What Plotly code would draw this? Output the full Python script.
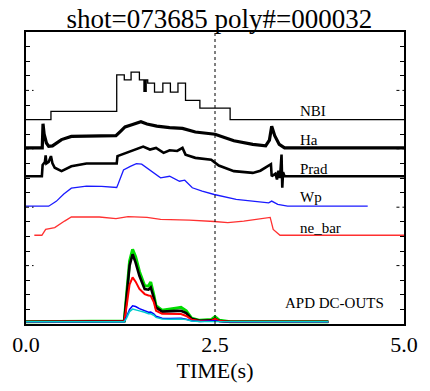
import plotly.graph_objects as go

# ---------------- data (time in s, values in stacked display units) ----------------
nbi_t = [0, 0.33, 1.20, 1.30, 1.39, 1.50, 1.56, 1.57, 1.58, 1.59, 1.61, 1.70, 1.81, 1.91, 2.01, 2.11, 2.30, 2.70, 5.0]
nbi_v = [14.0, 14.56, 17.06, 16.72, 17.25, 16.72, 15.93, 16.72, 15.93, 16.72, 16.50, 15.88, 16.50, 15.88, 16.50, 15.31, 14.79, 14.0, 14.0]

ha_t = [0, 0.215, 0.225, 0.24, 0.27, 0.30, 0.35, 0.47, 0.6, 0.8, 1.0, 1.19, 1.25, 1.31, 1.4, 1.52, 1.6, 1.73, 1.9, 2.07, 2.24, 2.5, 2.75, 3.0, 3.17, 3.22, 3.25, 3.29, 3.35, 3.42, 5.0]
ha_v = [12.06, 12.06, 13.72, 13.0, 12.4, 12.17, 12.2, 12.63, 12.85, 12.88, 12.88, 12.9, 13.2, 13.5, 13.65, 13.85, 13.7, 13.55, 13.45, 13.4, 13.15, 13.0, 12.55, 12.3, 12.2, 12.6, 13.54, 12.9, 12.3, 12.06, 12.06]

prad_t = [0, 0.21, 0.22, 0.25, 0.26, 0.27, 0.30, 0.33, 0.35, 0.38, 0.47, 0.6, 0.8, 1.2, 1.21, 1.26, 1.4, 1.55, 1.64, 1.72, 1.82, 1.9, 2.0, 2.07, 2.11, 2.24, 2.45, 2.55, 2.75, 3.0, 3.1, 3.17, 3.24, 3.25, 3.3, 3.32, 3.34, 3.36, 3.38, 3.39, 3.40, 3.42, 5.0]
prad_v = [10.12, 10.12, 10.9, 11.1, 11.55, 11.0, 11.1, 11.5, 11.0, 10.7, 10.47, 10.8, 10.99, 10.99, 11.5, 11.6, 11.85, 12.15, 11.95, 12.06, 11.72, 11.9, 11.85, 12.06, 11.6, 11.38, 11.25, 10.85, 10.47, 10.35, 10.5, 10.73, 10.95, 10.12, 10.3, 9.9, 10.5, 10.0, 11.6, 9.33, 10.4, 10.12, 10.12]

wp_t = [0, 0.3, 0.4, 0.5, 0.6, 0.8, 1.0, 1.2, 1.22, 1.29, 1.38, 1.46, 1.53, 1.69, 1.78, 1.9, 2.03, 2.1, 2.2, 2.33, 2.49, 2.78, 3.21, 3.25, 3.33, 3.46, 4.52]
wp_v = [8.07, 8.07, 8.4, 8.9, 9.3, 9.44, 9.42, 9.35, 9.6, 10.55, 10.8, 10.99, 10.95, 10.35, 10.01, 10.12, 9.78, 9.85, 9.33, 9.1, 8.87, 8.53, 8.3, 8.42, 8.19, 8.07, 8.07]

ne_t = [0.11, 0.21, 0.26, 0.38, 0.51, 0.6, 0.97, 1.19, 1.35, 1.6, 1.78, 2.16, 2.49, 2.67, 2.88, 3.21, 3.23, 3.27, 3.36, 5.0]
ne_v = [6.08, 6.08, 6.48, 6.6, 7.05, 7.33, 7.33, 7.22, 7.36, 7.3, 7.17, 7.12, 7.02, 6.94, 7.05, 7.28, 7.3, 6.48, 6.08, 6.08]

apd_t = [0, 1.30, 1.33, 1.37, 1.41, 1.45, 1.50, 1.57, 1.62, 1.65, 1.69, 1.72, 1.80, 1.90, 2.00, 2.05, 2.12, 2.19, 2.30, 2.45, 2.50, 2.56, 2.70, 4.0]
apd_green = [0.15, 0.2, 2.0, 4.3, 5.12, 4.6, 3.6, 2.61, 2.6, 2.87, 2.0, 1.25, 0.95, 1.0, 1.1, 1.14, 0.9, 0.4, 0.25, 0.3, 0.5, 0.25, 0.15, 0.15]
apd_black = [0.15, 0.2, 1.8, 4.0, 4.78, 4.2, 3.3, 2.39, 2.35, 2.5, 1.8, 1.14, 0.85, 0.85, 0.9, 0.91, 0.75, 0.35, 0.22, 0.25, 0.35, 0.2, 0.15, 0.15]
apd_red = [0.15, 0.18, 1.2, 2.7, 3.19, 2.9, 2.4, 2.05, 1.95, 1.93, 1.5, 0.91, 0.7, 0.7, 0.7, 0.68, 0.55, 0.3, 0.2, 0.22, 0.35, 0.2, 0.15, 0.15]
apd_blue = [0.15, 0.16, 0.5, 1.0, 1.25, 1.2, 1.05, 0.91, 0.8, 0.82, 0.7, 0.53, 0.4, 0.38, 0.4, 0.39, 0.33, 0.22, 0.17, 0.18, 0.22, 0.17, 0.15, 0.15]
apd_cyan = [0.15, 0.16, 0.4, 0.85, 1.02, 0.98, 0.9, 0.8, 0.7, 0.7, 0.6, 0.45, 0.35, 0.32, 0.35, 0.35, 0.3, 0.2, 0.17, 0.17, 0.2, 0.16, 0.15, 0.15]

labels = ["NBI", "Ha", "Prad", "Wp", "ne_bar", "APD DC-OUTS"]
label_t = [3.595, 3.595, 3.595, 3.595, 3.595, 3.40]
label_y = [14.57, 12.59, 10.61, 8.67, 6.55, 1.43]

x_tickvals = [0.0, 2.5, 5.0]
x_ticktext = ["0.0", "2.5", "5.0"]
marker_time = 2.5
y_minor = [v for v in range(1, 20) if v % 4 != 0]
y_major = [4, 8, 12, 16]

FONT = "Liberation Serif, Times New Roman, serif"

fig = go.Figure()

def add(t, v, color, width, shape="linear"):
    fig.add_trace(go.Scatter(x=t, y=v, mode="lines", line=dict(color=color, width=width, shape=shape),
                             showlegend=False, hoverinfo="skip"))

add(nbi_t, nbi_v, "black", 1.3, "hv")
add(ha_t, ha_v, "black", 3.2)
add(prad_t, prad_v, "black", 2.6)
add(wp_t, wp_v, "#1a1aff", 1.3)
add(ne_t, ne_v, "#ff3030", 1.3)
add(apd_t, apd_green, "#00dd00", 3)
add(apd_t, apd_black, "black", 2.6)
add(apd_t, apd_red, "#ff0000", 2)
add(apd_t, apd_blue, "#0000ff", 1.5)
add(apd_t, apd_cyan, "#00cccc", 1.5)

for txt, tx, ty in zip(labels, label_t, label_y):
    fig.add_annotation(x=tx, y=ty, text=txt, showarrow=False, xanchor="left", yanchor="middle",
                       font=dict(family=FONT, size=15, color="black"))

shapes = [dict(type="line", xref="x", yref="paper", x0=marker_time, x1=marker_time, y0=0, y1=1,
               line=dict(color="black", width=1, dash="dot"))]
for v in y_major:
    shapes.append(dict(type="line", xref="paper", yref="y", x0=0, x1=0.02, y0=v, y1=v,
                       line=dict(color="black", width=1, dash="dot")))
    shapes.append(dict(type="line", xref="paper", yref="y", x0=0.98, x1=1, y0=v, y1=v,
                       line=dict(color="black", width=1, dash="dot")))

fig.update_layout(
    width=430, height=391,
    margin=dict(l=23, r=12, t=32, b=66),
    paper_bgcolor="white", plot_bgcolor="white",
    title=dict(text="shot=073685 poly#=000032", x=0.51, xanchor="center", y=0.953, yanchor="middle",
               font=dict(family=FONT, size=27, color="black")),
    shapes=shapes,
    xaxis=dict(range=[0, 5], tickvals=x_tickvals, ticktext=x_ticktext, ticks="", showgrid=False,
               zeroline=False, showline=True, linecolor="black", linewidth=1.5, mirror=True,
               tickfont=dict(family=FONT, size=22, color="black"),
               title=dict(text="TIME(s)", font=dict(family=FONT, size=22, color="black"), standoff=6)),
    yaxis=dict(range=[0, 20], tickvals=y_minor, ticks="inside", ticklen=4, tickcolor="black",
               showticklabels=False, showgrid=False, zeroline=False, showline=True, linecolor="black",
               linewidth=1.5, mirror="ticks"),
)

fig.write_html("out.html")
